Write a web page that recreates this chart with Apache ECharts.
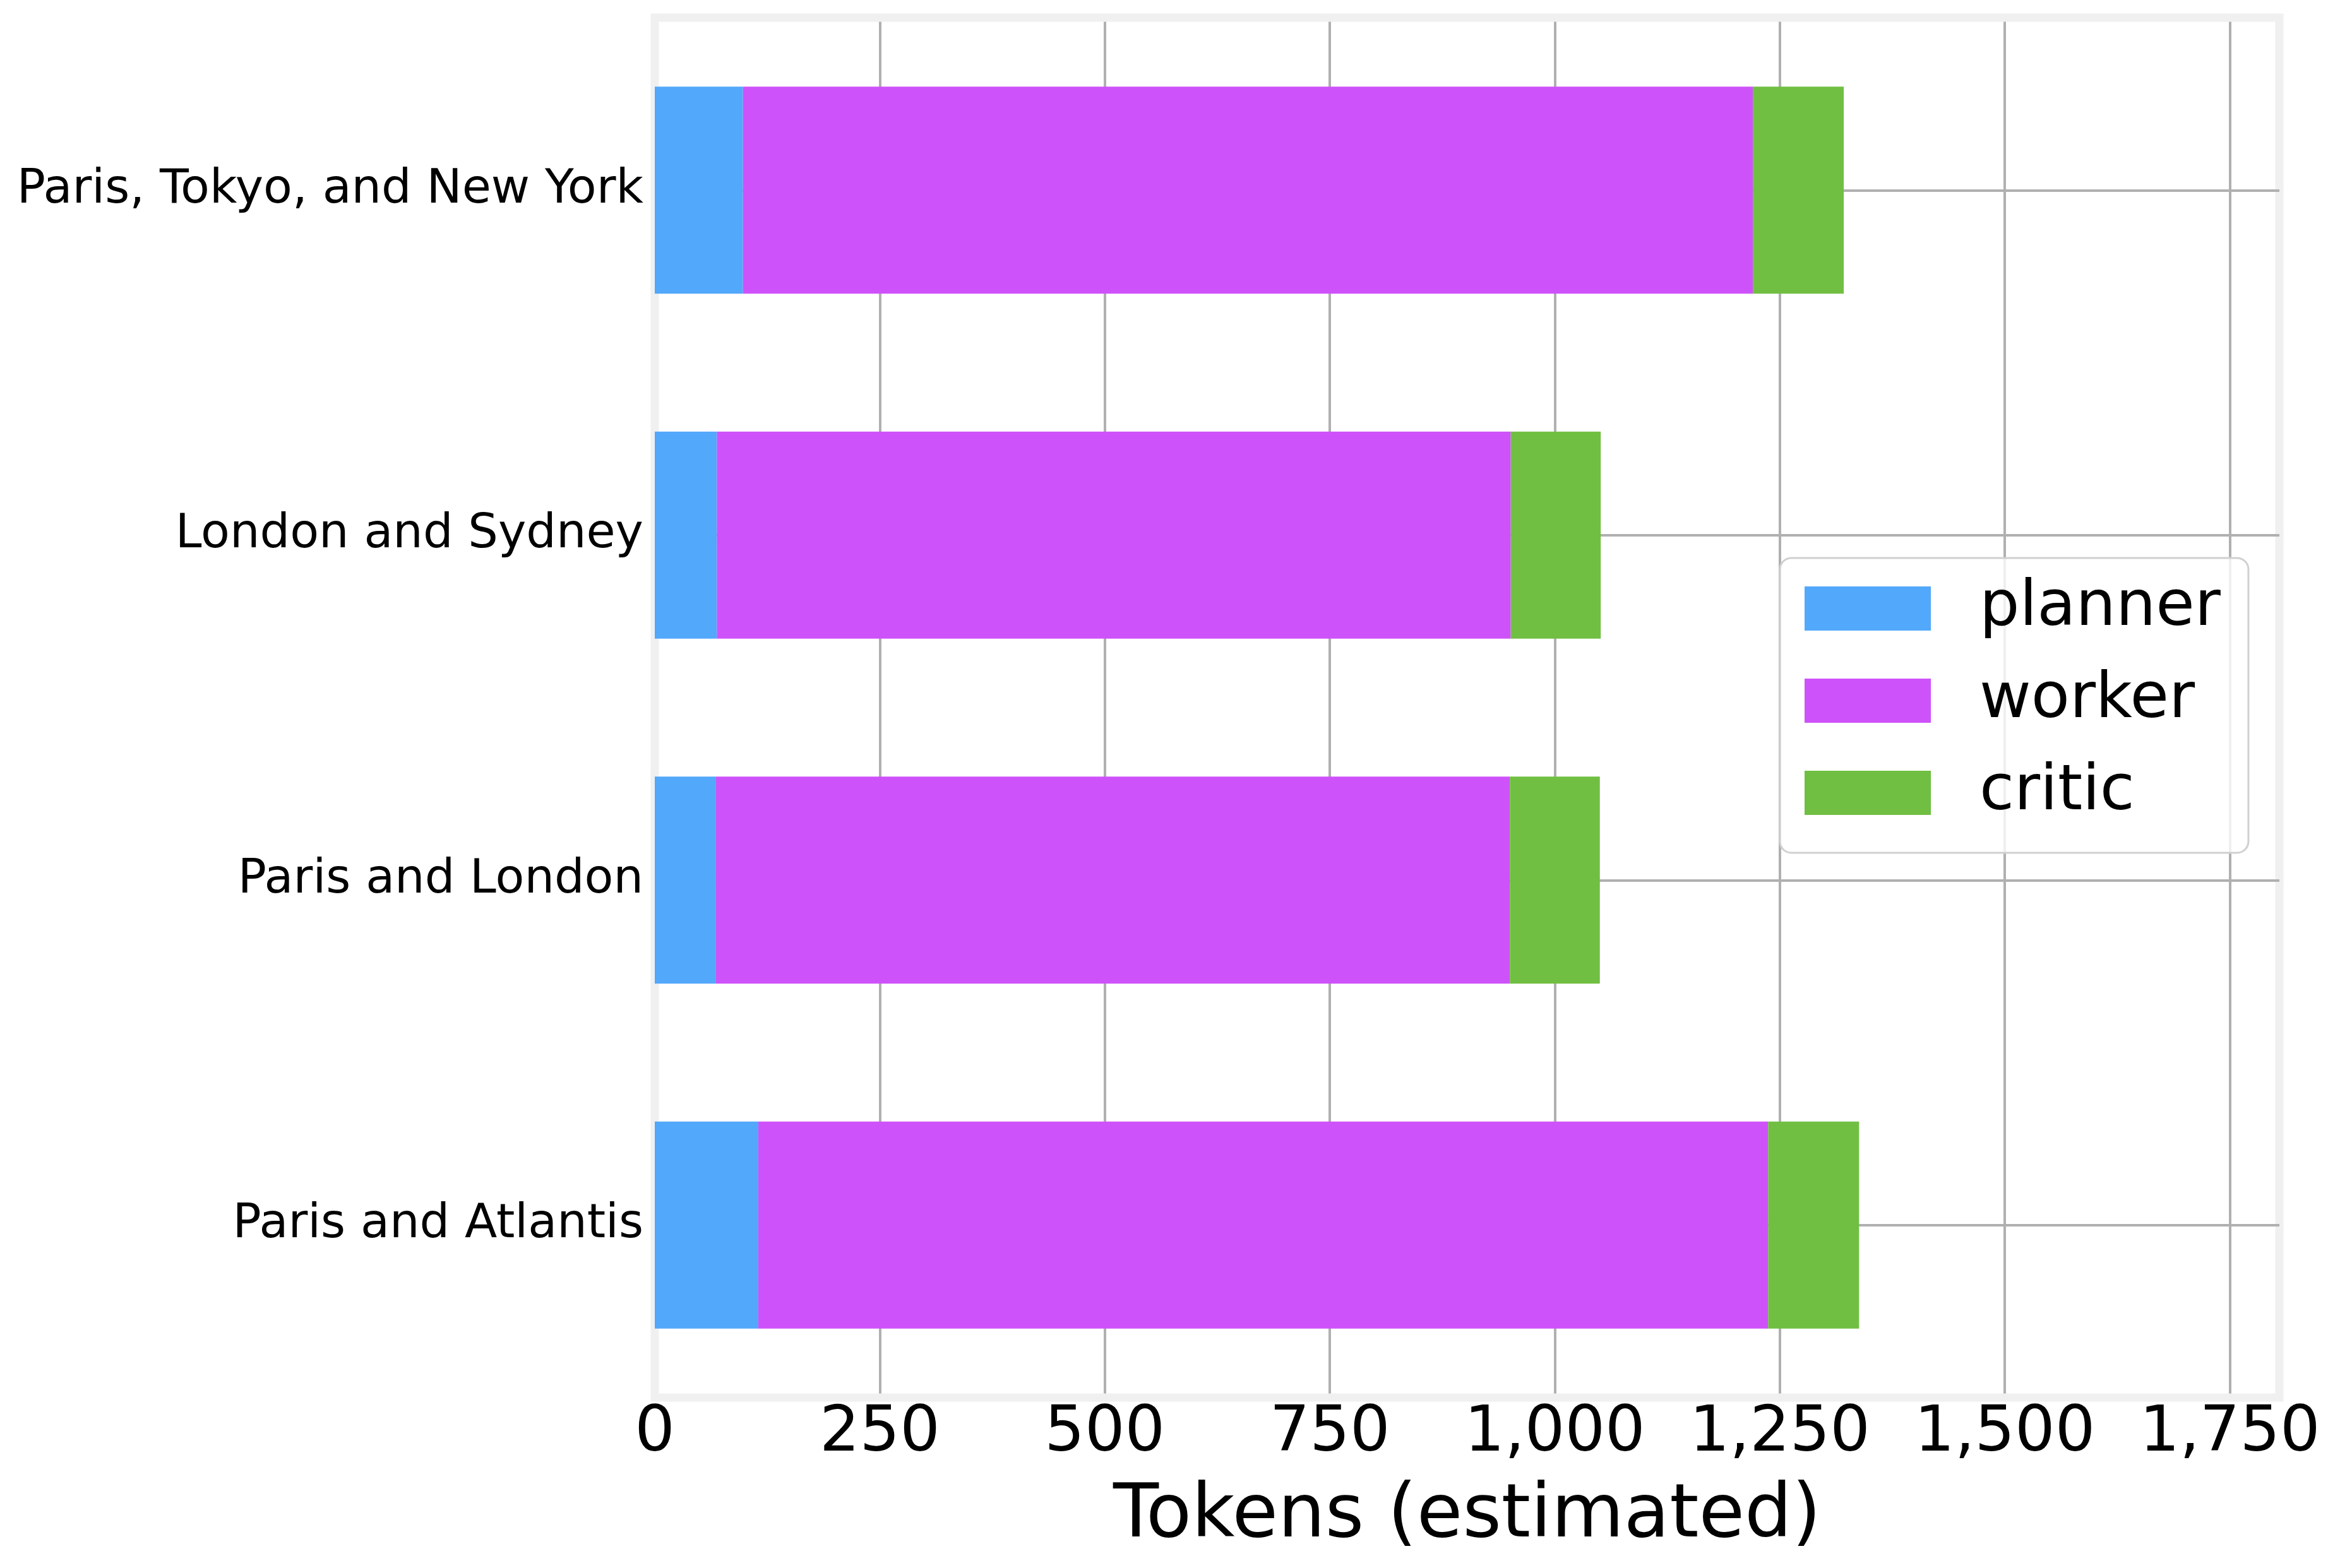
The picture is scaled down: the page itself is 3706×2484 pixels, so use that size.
<!DOCTYPE html>
<html>
<head>
<meta charset="utf-8">
<title>Tokens per agent</title>
<script src="https://cdn.jsdelivr.net/npm/echarts@6/dist/echarts.min.js"></script>
<style>
  html, body { margin: 0; padding: 0; background: #ffffff; }
  #chart { width: 3706px; height: 2484px; }
</style>
</head>
<body>
<div id="chart"></div>
<script>
// data (top row first)
var categories = ['Paris, Tokyo, and New York', 'London and Sydney', 'Paris and London', 'Paris and Atlantis'];
var agents = ['planner', 'worker', 'critic'];
var planner = [98, 69, 68, 115];
var worker = [1122, 882, 882, 1122];
var critic = [101, 100, 100, 101];
var xTicks = [0, 250, 500, 750, 1000, 1250, 1500, 1750];

var colors = ['#52a8fa', '#ce52fa', '#70bf42'];
var font = 'DejaVu Sans';

var chart = echarts.init(document.getElementById('chart'));

function barSeries(name, values, color) {
    return {
        name: name,
        type: 'bar',
        stack: 'total',
        barWidth: '60%',
        itemStyle: { color: color },
        z: 2,
        data: values
    };
}

var option = {
    backgroundColor: '#ffffff',
    animation: false,
    textStyle: { fontFamily: font },
    grid: {
        left: 1037,
        right: 96,
        top: 28,
        bottom: 270,
        z: 1,
        show: true,
        borderColor: '#f0f0f0',
        borderWidth: 13,
        backgroundColor: 'transparent'
    },
    legend: {
        data: agents,
        orient: 'vertical',
        left: 2819,
        top: 884,
        z: 5,
        icon: 'rect',
        itemWidth: 200,
        itemHeight: 70,
        itemGap: 46,
        padding: [30, 44, 45, 39],
        backgroundColor: 'rgba(255,255,255,0.8)',
        borderColor: '#d0d0d0',
        borderWidth: 3,
        borderRadius: 18,
        textStyle: {
            fontFamily: font,
            fontSize: 100,
            color: '#000000',
            padding: [0, 0, 0, 72]
        }
    },
    xAxis: {
        type: 'value',
        min: 0,
        max: 1805,
        interval: 250,
        name: 'Tokens (estimated)',
        nameLocation: 'middle',
        nameGap: 130,
        nameTextStyle: { fontFamily: font, fontSize: 118, color: '#000000' },
        axisLine: { show: false },
        axisTick: { show: false },
        axisLabel: {
            fontFamily: font,
            fontSize: 100,
            color: '#000000',
            margin: 8,
            showMaxLabel: false,
            formatter: function (v) {
                return xTicks.indexOf(v) >= 0 ? v.toLocaleString('en-US') : '';
            }
        },
        splitLine: { show: true, lineStyle: { color: '#b0b0b0', width: 4 } }
    },
    yAxis: {
        type: 'category',
        inverse: true,
        data: categories,
        axisLine: { show: false },
        axisTick: { show: false },
        axisLabel: { fontFamily: font, fontSize: 75, color: '#000000', margin: 18 },
        splitLine: { show: false }
    },
    series: [
        barSeries('planner', planner, colors[0]),
        barSeries('worker', worker, colors[1]),
        barSeries('critic', critic, colors[2]),
        {
            // horizontal grid lines at the category centres, behind the bars
            name: 'grid',
            type: 'line',
            data: [],
            showSymbol: false,
            silent: true,
            markLine: {
                z: 1,
                silent: true,
                symbol: ['none', 'none'],
                label: { show: false },
                lineStyle: { color: '#b0b0b0', width: 4, type: 'solid' },
                data: categories.map(function (c) { return { yAxis: c }; })
            }
        }
    ]
};

chart.setOption(option);
</script>
</body>
</html>
